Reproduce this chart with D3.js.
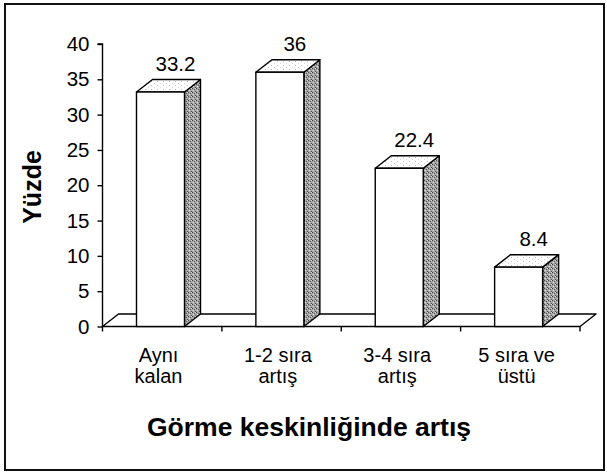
<!DOCTYPE html>
<html>
<head>
<meta charset="utf-8">
<script src="https://cdn.jsdelivr.net/npm/d3@7"></script>
<style>
	body { margin: 0; background: #fff; }
	text { font-family: "Liberation Sans", Arial, Helvetica, sans-serif; fill: #000; }
</style>
</head>
<body>
<svg id="chart" width="607" height="473"></svg>
<script>
var categories = [['Aynı', 'kalan'], ['1-2 sıra', 'artış'], ['3-4 sıra', 'artış'], ['5 sıra ve', 'üstü']]
var values = [33.2, 36, 22.4, 8.4]
var valueLabels = ['33.2', '36', '22.4', '8.4']
var yTicks = [0, 5, 10, 15, 20, 25, 30, 35, 40]
var yTitle = 'Yüzde'
var xTitle = 'Görme keskinliğinde artış'

var svg = d3.select('#chart')

var plotLeft = 102.5,
	plotRight = 580,
	plotTop = 44,
	plotBottom = 326.5,
	depthX = 16,
	depthY = -12.5,
	barW = 48

var x = d3.scaleBand()
	.domain(d3.range(categories.length))
	.range([plotLeft, plotRight])

var y = d3.scaleLinear()
	.domain([0, 40])
	.range([plotBottom, plotTop])

// stipple patterns for the 3d faces
var defs = svg.append('defs')
var side = defs.append('pattern')
	.attr('id', 'side')
	.attr('width', 4).attr('height', 4)
	.attr('patternUnits', 'userSpaceOnUse')
side.append('rect').attr('width', 4).attr('height', 4).attr('fill', '#a6a6a6')
side.append('rect').attr('width', 1).attr('height', 1).attr('fill', '#3c3c3c')
side.append('rect').attr('x', 2).attr('y', 1).attr('width', 1).attr('height', 1).attr('fill', '#555')
side.append('rect').attr('x', 1).attr('y', 2).attr('width', 1).attr('height', 1).attr('fill', '#e6e6e6')
side.append('rect').attr('x', 3).attr('y', 3).attr('width', 1).attr('height', 1).attr('fill', '#4a4a4a')
side.append('rect').attr('x', 3).attr('y', 0).attr('width', 1).attr('height', 1).attr('fill', '#d8d8d8')

var topFace = defs.append('pattern')
	.attr('id', 'topface')
	.attr('width', 6).attr('height', 4)
	.attr('patternUnits', 'userSpaceOnUse')
topFace.append('rect').attr('width', 6).attr('height', 4).attr('fill', '#fff')
topFace.append('rect').attr('x', 1).attr('y', 1).attr('width', 1).attr('height', 1).attr('fill', '#bbb')
topFace.append('rect').attr('x', 4).attr('y', 3).attr('width', 1).attr('height', 1).attr('fill', '#d5d5d5')

// outer frame
svg.append('rect')
	.attr('x', 5).attr('y', 4)
	.attr('width', 599).attr('height', 466)
	.attr('fill', 'none')
	.attr('stroke', '#111')
	.attr('stroke-width', 2)

// floor
var floorPts = [[plotLeft, y(0)], [plotLeft + depthX, y(0) + depthY], [plotRight + depthX, y(0) + depthY], [plotRight, y(0)]]
svg.append('polygon')
	.attr('points', floorPts.map(function(p) {return p.join(',')}).join(' '))
	.attr('fill', '#fff')
	.attr('stroke', '#000')
	.attr('stroke-width', 1.4)
	.attr('stroke-linejoin', 'round')

// y axis
var yAxis = d3.axisLeft(y)
	.tickValues(yTicks)
	.tickSize(5)
	.tickPadding(8)
var gy = svg.append('g')
	.attr('transform', 'translate(' + plotLeft + ',0)')
	.call(yAxis)
gy.select('.domain').attr('d', 'M-5,' + plotTop + 'H0V' + (plotBottom + 5))
gy.selectAll('path, line').attr('stroke', '#000').attr('stroke-width', 1.4)
gy.selectAll('text')
	.attr('font-size', 20.5)
	.attr('font-family', '"Liberation Sans", Arial, sans-serif')

// x axis ticks on band edges
var xEdges = d3.range(categories.length + 1).map(function(i) {return plotLeft + i * x.bandwidth()})
svg.selectAll('.xtick')
	.data(xEdges.slice(1))
	.enter()
	.append('line')
	.attr('class', 'xtick')
	.attr('x1', function(d) {return d})
	.attr('x2', function(d) {return d})
	.attr('y1', y(0))
	.attr('y2', y(0) + 5)
	.attr('stroke', '#000')
	.attr('stroke-width', 1.4)

// bars
var barX = function(i) {return x(i) + 34}
var bars = svg.selectAll('.bar')
	.data(values)
	.enter()
	.append('g')
	.attr('class', 'bar')

bars.append('polygon')
	.attr('points', function(v, i) {
		var x0 = barX(i) + barW, y0 = y(v), y1 = y(0)
		return [[x0, y0], [x0 + depthX, y0 + depthY], [x0 + depthX, y1 + depthY], [x0, y1]].join(' ')
	})
	.attr('fill', 'url(#side)')
	.attr('stroke', '#000')
	.attr('stroke-width', 1.4)
	.attr('stroke-linejoin', 'round')

bars.append('polygon')
	.attr('points', function(v, i) {
		var x0 = barX(i), y0 = y(v)
		return [[x0, y0], [x0 + depthX, y0 + depthY], [x0 + barW + depthX, y0 + depthY], [x0 + barW, y0]].join(' ')
	})
	.attr('fill', 'url(#topface)')
	.attr('stroke', '#000')
	.attr('stroke-width', 1.4)
	.attr('stroke-linejoin', 'round')

bars.append('rect')
	.attr('x', function(v, i) {return barX(i)})
	.attr('y', function(v) {return y(v)})
	.attr('width', barW)
	.attr('height', function(v) {return y(0) - y(v)})
	.attr('fill', '#fff')
	.attr('stroke', '#000')
	.attr('stroke-width', 1.4)

bars.append('text')
	.attr('x', function(v, i) {return barX(i) + barW / 2 + depthX - 1})
	.attr('y', function(v) {return y(v) + depthY - 9})
	.attr('text-anchor', 'middle')
	.attr('font-size', 20.5)
	.text(function(v, i) {return valueLabels[i]})

// category labels
svg.selectAll('.cat')
	.data(categories)
	.enter()
	.append('text')
	.attr('class', 'cat')
	.attr('text-anchor', 'middle')
	.attr('font-size', 20)
	.attr('transform', function(d, i) {return 'translate(' + (barX(i) + barW / 2 - 2) + ',362)'})
	.selectAll('tspan')
	.data(function(d) {return d})
	.enter()
	.append('tspan')
	.attr('x', 0)
	.attr('y', function(d, j) {return j * 21})
	.text(function(d) {return d})

// titles
svg.append('text')
	.attr('x', 309)
	.attr('y', 436)
	.attr('text-anchor', 'middle')
	.attr('font-size', 26.5)
	.attr('font-weight', 'bold')
	.text(xTitle)

svg.append('text')
	.attr('transform', 'translate(41,187) rotate(-90)')
	.attr('text-anchor', 'middle')
	.attr('font-size', 25)
	.attr('font-weight', 'bold')
	.text(yTitle)
</script>
</body>
</html>
